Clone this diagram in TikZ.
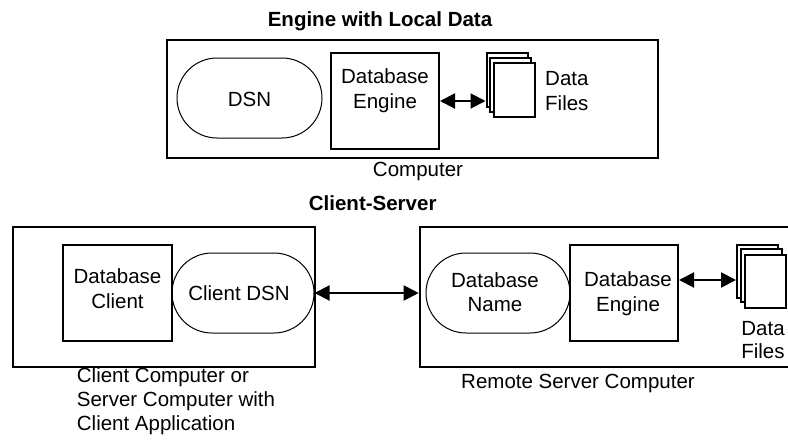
\documentclass[tikz,border=0pt]{standalone}
\usepackage{fontspec}
\setmainfont{Liberation Sans}
\usetikzlibrary{arrows.meta,shapes.misc}
\begin{document}
\begin{tikzpicture}[x=1pt,y=-1pt,
  txt/.style={font=\fontsize{20.5}{25}\selectfont, inner sep=0pt, anchor=base},
  ttl/.style={font=\fontsize{20.5}{25}\selectfont\bfseries, inner sep=0pt, anchor=base},
  outerbox/.style={draw, line width=2.6pt, rectangle, inner sep=0pt},
  innerbox/.style={draw, line width=2pt, rectangle, inner sep=0pt},
  stadium/.style={draw, line width=1pt, rounded rectangle, inner sep=0pt},
  page/.style={draw, line width=2pt, fill=white, rectangle, inner sep=0pt, minimum width=41pt, minimum height=54pt},
  arr/.style={line width=2pt, {Triangle[length=15pt,width=15pt]}-{Triangle[length=15pt,width=15pt]}}
]
\useasboundingbox (0,0) rectangle (788,440);

% ---------- Engine with Local Data ----------
\node[ttl] (title1) at (380,26) {Engine with Local Data};
\node[outerbox, minimum width=491pt, minimum height=118pt] (comp1) at (412.5,99) {};
\node[stadium, minimum width=145pt, minimum height=80pt] (dsn) at (249.5,98) {};
\node[innerbox, minimum width=108pt, minimum height=96pt] (eng1) at (385,101) {};
\node[page] (p1a) at (507,80) {};
\node[page] (p1b) at (510.5,85) {};
\node[page] (p1c) at (514,90) {};
\draw[arr] (eng1.east) -- (eng1.east -| p1a.west);

\node[txt] (dsnt) at (249.5,106) {DSN};
\node[txt] (eng1a) at (385,83.3) {Database};
\node[txt] (eng1b) at (385,108) {Engine};
\node[txt, anchor=base west] (df1a) at (545,85) {Data};
\node[txt, anchor=base west] (df1b) at (545,110) {Files};
\node[txt] (comp1t) at (418,176) {Computer};

% ---------- Client-Server ----------
\node[ttl, anchor=base east] (title2) at (436.7,210.7) {Client-Server};

\node[outerbox, minimum width=302pt, minimum height=140pt] (client) at (164,297) {};
\node[innerbox, minimum width=109pt, minimum height=96pt] (dbc) at (117.5,293) {};
\node[stadium, minimum width=142pt, minimum height=80pt] (cdsn) at (243,293) {};
\node[txt] (dbca) at (117.5,283) {Database};
\node[txt] (dbcb) at (117.5,308.5) {Client};
\node[txt] (cdsnt) at (239,300) {Client DSN};

\node[outerbox, minimum width=380pt, minimum height=140pt] (remote) at (610,297) {};
\node[stadium, minimum width=144pt, minimum height=80pt] (dbn) at (498,293) {};
\node[innerbox, minimum width=108pt, minimum height=96pt] (eng2) at (624,293) {};
\node[txt] (dbna) at (495,287.3) {Database};
\node[txt] (dbnb) at (495,311.7) {Name};
\node[txt] (eng2a) at (628,286) {Database};
\node[txt] (eng2b) at (628,311) {Engine};

\node[page, minimum height=53pt] (p2a) at (757.5,271) {};
\node[page, minimum height=53pt] (p2b) at (761,275.5) {};
\node[page, minimum height=53pt] (p2c) at (765,281) {};
\node[txt] (df2a) at (763,335) {Data};
\node[txt] (df2b) at (763,358) {Files};

\draw[arr] (cdsn.east) -- (cdsn.east -| remote.west);
\draw[arr] ([yshift=13pt]eng2.east) coordinate (a2s) -- (a2s -| p2a.west);

\node[txt] (remt) at (578,388.3) {Remote Server Computer};
\node[txt, anchor=base west] (cl1) at (76.7,382.7) {Client Computer or};
\node[txt, anchor=base west] (cl2) at (76.7,406.7) {Server Computer with};
\node[txt, anchor=base west] (cl3) at (76.7,430) {Client Application};
\end{tikzpicture}
\end{document}
